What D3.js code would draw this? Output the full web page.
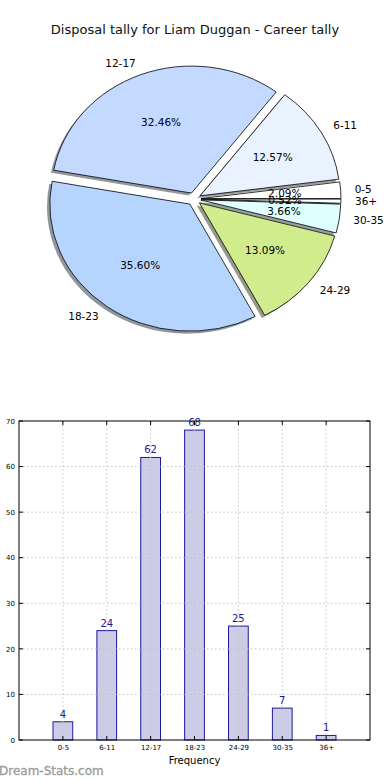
<!DOCTYPE html>
<html><head><meta charset="utf-8">
<script src="https://cdn.jsdelivr.net/npm/d3@7"></script>
<style>body{margin:0;background:#fff;} svg{display:block;font-family:"DejaVu Sans",sans-serif;}</style>
</head><body>
<svg id="c" width="390" height="780"></svg>
<script>
const categories = ["0-5","6-11","12-17","18-23","24-29","30-35","36+"];
const values = [4,24,62,68,25,7,1];
const pieColors = ["#ffffff","#eaf1ff","#c4d9ff","#b5d5ff","#d0ec8c","#e0ffff","#ffffff"];
const yTicks = [0,10,20,30,40,50,60,70];
const title = "Disposal tally for Liam Duggan - Career tally";

const svg = d3.select("#c");
svg.append("rect").attr("width",390).attr("height",780).attr("fill","#fff");

svg.append("text").attr("x",195).attr("y",34).attr("text-anchor","middle")
  .attr("font-size",13).attr("fill","#111").text(title);

// ---- Pie (matplotlib-style: starts at east, counter-clockwise, elliptical) ----
const cx = 194, cy = 199, rx = 140, ry = 127, explode = 0.05;
const total = d3.sum(values);
const pie = d3.pie().sort(null).value(d=>d)(values);
const arc = d3.arc().innerRadius(0).outerRadius(1);
const slices = pie.map((p,i)=>{
  const a0 = p.startAngle, a1 = p.endAngle, am = (a0+a1)/2;
  const ox = cx + explode*rx*Math.cos(am), oy = cy - explode*ry*Math.sin(am);
  return {i, am, ox, oy, d: arc({startAngle: Math.PI/2 - a1, endAngle: Math.PI/2 - a0})};
});
const gp = svg.append("g");
// shadows
slices.forEach(s=>{
  const c = d3.rgb(pieColors[s.i]);
  const sc = d3.rgb(c.r*0.3, c.g*0.3, c.b*0.3);
  gp.append("path").attr("d", s.d)
    .attr("transform",`translate(${s.ox-0.02*rx},${s.oy+0.02*ry}) scale(${rx},${ry})`)
    .attr("fill", sc.formatHex()).attr("fill-opacity",0.55);
});
slices.forEach(s=>{
  gp.append("path").attr("d", s.d)
    .attr("transform",`translate(${s.ox},${s.oy}) scale(${rx},${ry})`)
    .attr("fill", pieColors[s.i]).attr("stroke","#000").attr("stroke-width",0.8)
    .attr("vector-effect","non-scaling-stroke");
});
slices.forEach(s=>{
  const lx = s.ox + 1.1*rx*Math.cos(s.am), ly = s.oy - 1.1*ry*Math.sin(s.am);
  gp.append("text").attr("x",lx).attr("y",ly).attr("dy","0.35em")
    .attr("text-anchor", Math.cos(s.am) > 0 ? "start" : "end")
    .attr("font-size",10.5).attr("fill","#000").text(categories[s.i]);
  const px = s.ox + 0.6*rx*Math.cos(s.am), py = s.oy - 0.6*ry*Math.sin(s.am);
  gp.append("text").attr("x",px).attr("y",py).attr("dy","0.35em")
    .attr("text-anchor","middle").attr("font-size",10.5).attr("fill","#000")
    .text((values[s.i]/total*100).toFixed(2)+"%");
});

// ---- Bar chart ----
const L = 19, R = 370, T = 421, B = 740;
const x = d3.scaleLinear().domain([-1,7]).range([L,R]);
const y = d3.scaleLinear().domain([0,70]).range([B,T]);
const g = svg.append("g");
const bw = 0.45;
g.selectAll("rect.bar").data(values).join("rect").attr("class","bar")
  .attr("x",(d,i)=>x(i-bw/2)).attr("width",x(bw)-x(0))
  .attr("y",d=>y(d)).attr("height",d=>y(0)-y(d))
  .attr("fill","#cccce6").attr("stroke","#1a1a99").attr("stroke-width",1);
// grid on top
categories.forEach((c,i)=>{
  g.append("line").attr("x1",x(i)).attr("x2",x(i)).attr("y1",T).attr("y2",B)
    .attr("stroke","#c4c4c4").attr("stroke-width",1).attr("stroke-dasharray","1.5,2.5");
});
yTicks.forEach(t=>{
  if(t===0||t===70) return;
  g.append("line").attr("x1",L).attr("x2",R).attr("y1",y(t)).attr("y2",y(t))
    .attr("stroke","#c4c4c4").attr("stroke-width",1).attr("stroke-dasharray","1.5,2.5");
});
g.append("rect").attr("x",L).attr("y",T).attr("width",R-L).attr("height",B-T)
  .attr("fill","none").attr("stroke","#000").attr("stroke-width",1);
// ticks
const yAxis = d3.axisLeft(y).tickValues(yTicks).tickSize(0).tickPadding(4);
const ya = g.append("g").attr("transform",`translate(${L},0)`).call(yAxis);
ya.select(".domain").remove();
ya.selectAll("text").attr("font-size",7).attr("font-family","DejaVu Sans").attr("fill","#000");
const xAxis = d3.axisBottom(x).tickValues(d3.range(categories.length)).tickFormat(i=>categories[i]).tickSize(0).tickPadding(5);
const xa = g.append("g").attr("transform",`translate(0,${B})`).call(xAxis);
xa.select(".domain").remove();
xa.selectAll("text").attr("font-size",7).attr("font-family","DejaVu Sans").attr("fill","#000");
yTicks.forEach(t=>{
  g.append("line").attr("x1",L).attr("x2",L+4).attr("y1",y(t)).attr("y2",y(t)).attr("stroke","#000");
  g.append("line").attr("x1",R-4).attr("x2",R).attr("y1",y(t)).attr("y2",y(t)).attr("stroke","#000");
});
categories.forEach((c,i)=>{
  g.append("line").attr("x1",x(i)).attr("x2",x(i)).attr("y1",B).attr("y2",B-4).attr("stroke","#000");
  g.append("line").attr("x1",x(i)).attr("x2",x(i)).attr("y1",T).attr("y2",T+4).attr("stroke","#000");
});
g.selectAll("text.val").data(values).join("text").attr("class","val")
  .attr("x",(d,i)=>x(i)).attr("y",d=>y(d)-4).attr("text-anchor","middle")
  .attr("font-size",10).attr("fill","#1a1a99").text(d=>d);
g.append("text").attr("x",(L+R)/2).attr("y",764).attr("text-anchor","middle")
  .attr("font-size",10).attr("fill","#000").text("Frequency");

svg.append("text").attr("x",-1).attr("y",775).attr("font-size",12).attr("font-weight","normal")
  .attr("stroke","#9a9a9a").attr("stroke-width",0.3)
  .attr("fill","#9a9a9a").text("Dream-Stats.com");
</script>
</body></html>
